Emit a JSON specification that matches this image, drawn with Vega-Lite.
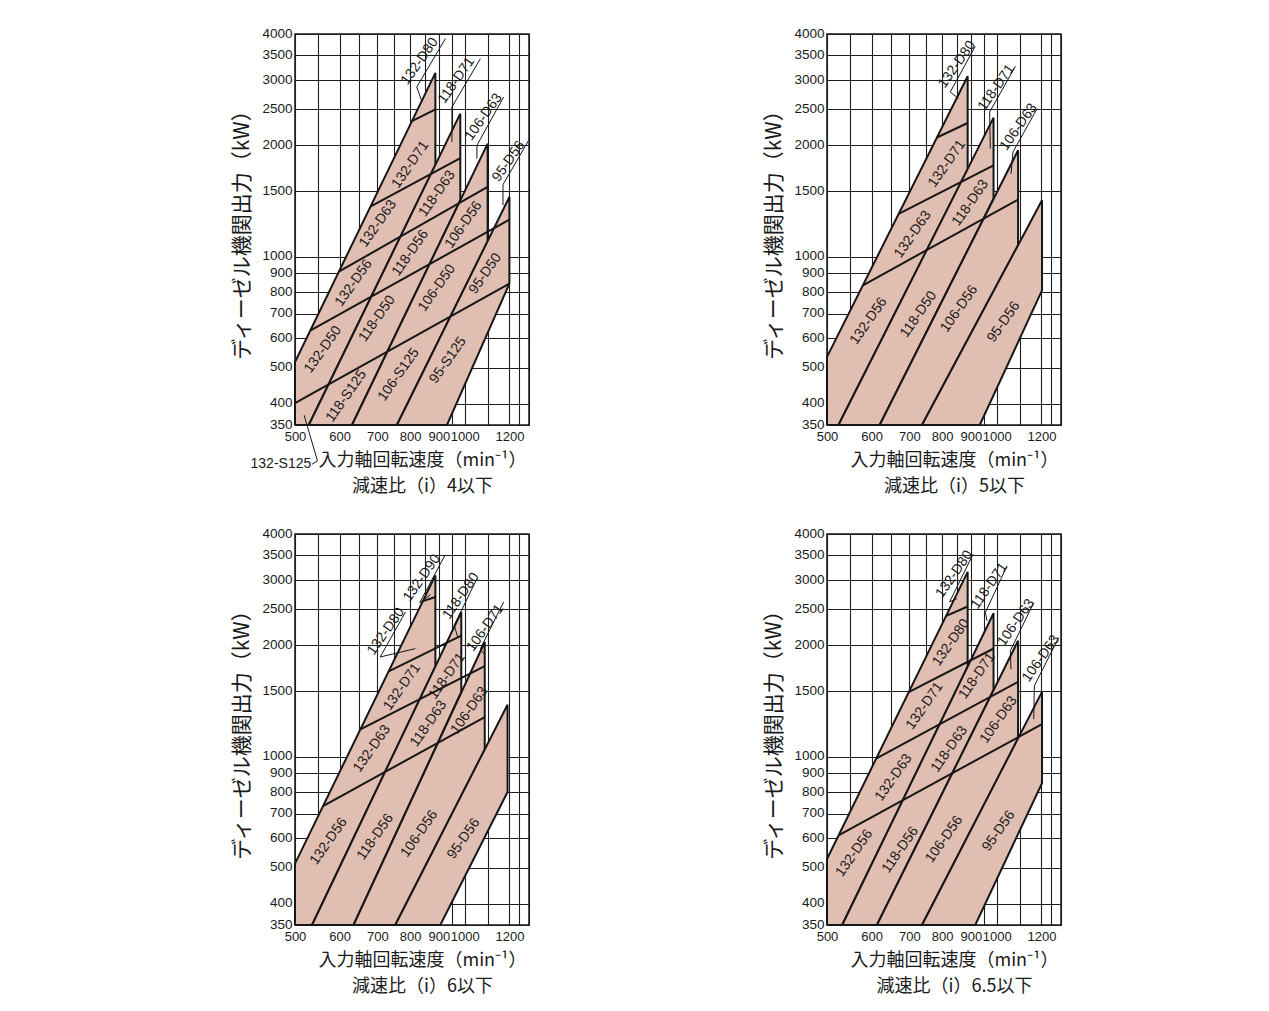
{
"$schema": "https://vega.github.io/schema/vega-lite/v6.json",
"background": "white",
"padding": {"left": 231, "top": 25, "right": 5, "bottom": 5},
"datasets": {
"regions": [
{"p":1,"r":"132","i":0,"n":500,"kw":350},{"p":1,"r":"132","i":1,"n":529,"kw":350},{"p":1,"r":"132","i":2,"n":887,"kw":1770},{"p":1,"r":"132","i":3,"n":887,"kw":3140},{"p":1,"r":"132","i":4,"n":500,"kw":518},{"p":1,"r":"132","i":5,"n":500,"kw":350},
{"p":1,"r":"118","i":0,"n":529,"kw":350},{"p":1,"r":"118","i":1,"n":631,"kw":350},{"p":1,"r":"118","i":2,"n":982,"kw":1420},{"p":1,"r":"118","i":3,"n":982,"kw":2435},{"p":1,"r":"118","i":4,"n":529,"kw":350},
{"p":1,"r":"106","i":0,"n":631,"kw":350},{"p":1,"r":"106","i":1,"n":758,"kw":350},{"p":1,"r":"106","i":2,"n":1098,"kw":1099},{"p":1,"r":"106","i":3,"n":1098,"kw":2020},{"p":1,"r":"106","i":4,"n":631,"kw":350},
{"p":1,"r":"95","i":0,"n":758,"kw":350},{"p":1,"r":"95","i":1,"n":930,"kw":350},{"p":1,"r":"95","i":2,"n":1200,"kw":844},{"p":1,"r":"95","i":3,"n":1200,"kw":1449},{"p":1,"r":"95","i":4,"n":758,"kw":350},
{"p":2,"r":"132","i":0,"n":500,"kw":350},{"p":2,"r":"132","i":1,"n":524,"kw":350},{"p":2,"r":"132","i":2,"n":888,"kw":1722},{"p":2,"r":"132","i":3,"n":888,"kw":3073},{"p":2,"r":"132","i":4,"n":500,"kw":535},{"p":2,"r":"132","i":5,"n":500,"kw":350},
{"p":2,"r":"118","i":0,"n":524,"kw":350},{"p":2,"r":"118","i":1,"n":620,"kw":350},{"p":2,"r":"118","i":2,"n":987,"kw":1434},{"p":2,"r":"118","i":3,"n":987,"kw":2375},{"p":2,"r":"118","i":4,"n":524,"kw":350},
{"p":2,"r":"106","i":0,"n":620,"kw":350},{"p":2,"r":"106","i":1,"n":737,"kw":350},{"p":2,"r":"106","i":2,"n":1091,"kw":1072},{"p":2,"r":"106","i":3,"n":1091,"kw":1938},{"p":2,"r":"106","i":4,"n":620,"kw":350},
{"p":2,"r":"95","i":0,"n":737,"kw":350},{"p":2,"r":"95","i":1,"n":933,"kw":350},{"p":2,"r":"95","i":2,"n":1203,"kw":810},{"p":2,"r":"95","i":3,"n":1203,"kw":1419},{"p":2,"r":"95","i":4,"n":737,"kw":350},
{"p":3,"r":"132","i":0,"n":500,"kw":350},{"p":3,"r":"132","i":1,"n":536,"kw":350},{"p":3,"r":"132","i":2,"n":887,"kw":1751},{"p":3,"r":"132","i":3,"n":887,"kw":3092},{"p":3,"r":"132","i":4,"n":500,"kw":513},{"p":3,"r":"132","i":5,"n":500,"kw":350},
{"p":3,"r":"118","i":0,"n":536,"kw":350},{"p":3,"r":"118","i":1,"n":635,"kw":350},{"p":3,"r":"118","i":2,"n":986,"kw":1495},{"p":3,"r":"118","i":3,"n":986,"kw":2460},{"p":3,"r":"118","i":4,"n":536,"kw":350},
{"p":3,"r":"106","i":0,"n":635,"kw":350},{"p":3,"r":"106","i":1,"n":753,"kw":350},{"p":3,"r":"106","i":2,"n":1085,"kw":1043},{"p":3,"r":"106","i":3,"n":1085,"kw":2041},{"p":3,"r":"106","i":4,"n":635,"kw":350},
{"p":3,"r":"95","i":0,"n":753,"kw":350},{"p":3,"r":"95","i":1,"n":905,"kw":350},{"p":3,"r":"95","i":2,"n":1191,"kw":802},{"p":3,"r":"95","i":3,"n":1191,"kw":1381},{"p":3,"r":"95","i":4,"n":753,"kw":350},
{"p":4,"r":"132","i":0,"n":500,"kw":350},{"p":4,"r":"132","i":1,"n":532,"kw":350},{"p":4,"r":"132","i":2,"n":888,"kw":1750},{"p":4,"r":"132","i":3,"n":888,"kw":3160},{"p":4,"r":"132","i":4,"n":500,"kw":528},{"p":4,"r":"132","i":5,"n":500,"kw":350},
{"p":4,"r":"118","i":0,"n":532,"kw":350},{"p":4,"r":"118","i":1,"n":613,"kw":350},{"p":4,"r":"118","i":2,"n":987,"kw":1513},{"p":4,"r":"118","i":3,"n":987,"kw":2442},{"p":4,"r":"118","i":4,"n":532,"kw":350},
{"p":4,"r":"106","i":0,"n":613,"kw":350},{"p":4,"r":"106","i":1,"n":737,"kw":350},{"p":4,"r":"106","i":2,"n":1091,"kw":1118},{"p":4,"r":"106","i":3,"n":1091,"kw":2056},{"p":4,"r":"106","i":4,"n":613,"kw":350},
{"p":4,"r":"95","i":0,"n":737,"kw":350},{"p":4,"r":"95","i":1,"n":916,"kw":350},{"p":4,"r":"95","i":2,"n":1203,"kw":847},{"p":4,"r":"95","i":3,"n":1203,"kw":1496},{"p":4,"r":"95","i":4,"n":737,"kw":350}
],
"segs": [
{"p":1,"k":"s","n":500,"kw":401,"n2":1200,"kw2":844},
{"p":1,"k":"s","n":532,"kw":630,"n2":1200,"kw2":1258},
{"p":1,"k":"s","n":598,"kw":910,"n2":1098,"kw2":1542},
{"p":1,"k":"s","n":680,"kw":1365,"n2":982,"kw2":1847},
{"p":1,"k":"s","n":806,"kw":2323,"n2":887,"kw2":2502},
{"p":1,"k":"t","n":822,"kw":2875,"n2":924,"kw2":3885},
{"p":1,"k":"t","n":822,"kw":2875,"n2":840,"kw2":2619},
{"p":1,"k":"t","n":949,"kw":2538,"n2":1066,"kw2":3431},
{"p":1,"k":"t","n":949,"kw":2538,"n2":949,"kw2":2041},
{"p":1,"k":"t","n":1051,"kw":1999,"n2":1172,"kw2":2701},
{"p":1,"k":"t","n":1051,"kw":1999,"n2":1051,"kw2":1840},
{"p":1,"k":"t","n":1169,"kw":1565,"n2":1298,"kw2":2062},
{"p":1,"k":"t","n":1169,"kw":1565,"n2":1169,"kw2":1375},
{"p":1,"k":"t","n":536,"kw":274,"n2":548,"kw2":280},
{"p":1,"k":"t","n":548,"kw":280,"n2":519,"kw2":372},
{"p":2,"k":"s","n":579,"kw":836,"n2":1091,"kw2":1425},
{"p":2,"k":"s","n":670,"kw":1304,"n2":987,"kw2":1765},
{"p":2,"k":"s","n":783.5,"kw":2099,"n2":888,"kw2":2297},
{"p":2,"k":"t","n":827,"kw":2787,"n2":916,"kw2":3704},
{"p":2,"k":"t","n":827,"kw":2787,"n2":856,"kw2":2673},
{"p":2,"k":"t","n":971.5,"kw":2460,"n2":1079,"kw2":3270},
{"p":2,"k":"t","n":971.5,"kw":2460,"n2":974,"kw2":1958},
{"p":2,"k":"t","n":1068.5,"kw":1918,"n2":1179,"kw2":2512},
{"p":2,"k":"t","n":1068.5,"kw":1918,"n2":1060,"kw2":1675},
{"p":3,"k":"s","n":560.5,"kw":734,"n2":1085,"kw2":1279},
{"p":3,"k":"s","n":653,"kw":1184,"n2":1085,"kw2":1757},
{"p":3,"k":"s","n":733,"kw":1700,"n2":986,"kw2":2123},
{"p":3,"k":"s","n":843,"kw":2633,"n2":887,"kw2":2701},
{"p":3,"k":"t","n":832,"kw":2608,"n2":921,"kw2":3488},
{"p":3,"k":"t","n":832,"kw":2608,"n2":869,"kw2":2741},
{"p":3,"k":"t","n":708,"kw":1859,"n2":785,"kw2":2460},
{"p":3,"k":"t","n":708,"kw":1859,"n2":817,"kw2":1958},
{"p":3,"k":"t","n":958,"kw":2265,"n2":1051,"kw2":3028},
{"p":3,"k":"t","n":958,"kw":2265,"n2":971.5,"kw2":2106},
{"p":3,"k":"t","n":1066,"kw":1958,"n2":1172,"kw2":2619},
{"p":3,"k":"t","n":1066,"kw":1958,"n2":1080,"kw2":1898},
{"p":4,"k":"s","n":524,"kw":612,"n2":1203,"kw2":1223},
{"p":4,"k":"s","n":612,"kw":989,"n2":1091,"kw2":1592},
{"p":4,"k":"s","n":698,"kw":1493,"n2":987.5,"kw2":1960},
{"p":4,"k":"s","n":812,"kw":2398,"n2":888,"kw2":2546},
{"p":4,"k":"t","n":825,"kw":2621,"n2":908,"kw2":3528},
{"p":4,"k":"t","n":825,"kw":2621,"n2":850,"kw2":2676},
{"p":4,"k":"t","n":954.5,"kw":2453,"n2":1043,"kw2":3281},
{"p":4,"k":"t","n":954.5,"kw":2453,"n2":961,"kw2":2329},
{"p":4,"k":"t","n":1057,"kw":1932,"n2":1163,"kw2":2607},
{"p":4,"k":"t","n":1057,"kw":1932,"n2":1060,"kw2":1723},
{"p":4,"k":"t","n":1166,"kw":1553,"n2":1288,"kw2":2099},
{"p":4,"k":"t","n":1166,"kw":1553,"n2":1163,"kw2":1262}
],
"labels": [
{"p":1,"t":"132-D71","n":800.7,"kw":1772},{"p":1,"t":"132-D63","n":701.7,"kw":1227},{"p":1,"t":"132-D56","n":635.4,"kw":848},{"p":1,"t":"132-D50","n":560.5,"kw":560},
{"p":1,"t":"118-D63","n":892.8,"kw":1479},{"p":1,"t":"118-D56","n":800.7,"kw":1022},{"p":1,"t":"118-D50","n":698.9,"kw":679},{"p":1,"t":"118-S125","n":616.6,"kw":419},
{"p":1,"t":"106-D56","n":995.5,"kw":1219},{"p":1,"t":"106-D50","n":892.8,"kw":822},{"p":1,"t":"106-S125","n":763.5,"kw":479},
{"p":1,"t":"95-D50","n":1087.6,"kw":899},{"p":1,"t":"95-S125","n":933.8,"kw":524},
{"p":1,"t":"132-D80","n":832,"kw":3374},{"p":1,"t":"118-D71","n":966.3,"kw":2997},{"p":1,"t":"106-D63","n":1080.3,"kw":2385},{"p":1,"t":"95-D56","n":1196,"kw":1809},
{"p":2,"t":"132-D71","n":816,"kw":1783},{"p":2,"t":"132-D63","n":710,"kw":1148},{"p":2,"t":"118-D63","n":898,"kw":1396},{"p":2,"t":"132-D56","n":592.7,"kw":669},{"p":2,"t":"118-D50","n":727,"kw":697.5},{"p":2,"t":"106-D56","n":858,"kw":722},{"p":2,"t":"95-D56","n":1029,"kw":665},
{"p":2,"t":"132-D80","n":850,"kw":3311},{"p":2,"t":"118-D71","n":998,"kw":2863},{"p":2,"t":"106-D63","n":1093.5,"kw":2241},
{"p":3,"t":"132-D71","n":774,"kw":1542},{"p":3,"t":"132-D63","n":684.7,"kw":1050},{"p":3,"t":"132-D56","n":573.7,"kw":589.5},{"p":3,"t":"118-D71","n":930,"kw":1651},{"p":3,"t":"118-D63","n":863,"kw":1227},{"p":3,"t":"118-D56","n":694,"kw":605.6},{"p":3,"t":"106-D63","n":1019,"kw":1333},{"p":3,"t":"106-D56","n":830.7,"kw":618},{"p":3,"t":"95-D56","n":995.5,"kw":599},
{"p":3,"t":"132-D90","n":839.8,"kw":3041},{"p":3,"t":"132-D80","n":725,"kw":2181},{"p":3,"t":"118-D80","n":984.7,"kw":2718},{"p":3,"t":"106-D71","n":1087.6,"kw":2227},
{"p":4,"t":"132-D80","n":829.6,"kw":2035},{"p":4,"t":"132-D71","n":745,"kw":1371},{"p":4,"t":"132-D63","n":656.4,"kw":877},{"p":4,"t":"132-D56","n":559,"kw":547.5},{"p":4,"t":"118-D71","n":922.6,"kw":1653},{"p":4,"t":"118-D63","n":823.6,"kw":1047},{"p":4,"t":"118-D56","n":674.6,"kw":559},{"p":4,"t":"106-D63","n":1008,"kw":1257},{"p":4,"t":"106-D56","n":807,"kw":597},{"p":4,"t":"95-D56","n":1008,"kw":629},
{"p":4,"t":"132-D80","n":841,"kw":3115},{"p":4,"t":"118-D71","n":970,"kw":2896},{"p":4,"t":"106-D63","n":1082,"kw":2305},{"p":4,"t":"106-D63","n":1198,"kw":1842}
],
"notes": [
{"p":1,"t":"132-S125","n":472,"kw":274}
]
},
"config": {
"view": {"stroke": "#1a1a1a", "strokeWidth": 1.5},
"axis": {"grid": true, "gridColor": "#1e1e1e", "gridWidth": 1.1, "gridOpacity": 1, "domain": false, "ticks": false, "labelColor": "#1a1a1a", "labelFont": "Liberation Sans", "titleFont": "Noto Sans CJK JP", "titleFontWeight": "normal", "titleColor": "#1a1a1a", "zindex": 1, "labelOverlap": false, "labelFlush": false},
"axisX": {"labelFontSize": 13, "labelPadding": 5, "titleFontSize": 18, "titlePadding": 8, "titleLineHeight": 26, "titleX": 127},
"axisY": {"labelFontSize": 13.5, "labelPadding": 3, "labelOffset": -1, "titleFontSize": 21, "titlePadding": 9},
"text": {"font": "Liberation Sans", "fontSize": 14, "color": "#1a1a1a"}
},
"columns": 2,
"spacing": {"row": 109, "column": 298},
"bounds": "flush",
"concat": [
{
"width": 234, "height": 391,
"encoding": {
"x": {"field": "n", "type": "quantitative", "scale": {"type": "log", "domain": [500, 1300], "nice": false}, "axis": {"values": [500,550,600,650,700,750,800,850,900,950,1000,1100,1200,1250,1300], "format": "d", "labelExpr": "indexof([500,600,700,800,900,1000,1200], datum.value) >= 0 ? datum.label : ''", "title": ["入力軸回転速度（min⁻¹）", "減速比（i）4以下"]}},
"y": {"field": "kw", "type": "quantitative", "scale": {"type": "log", "domain": [350, 4000], "nice": false}, "axis": {"values": [350,400,500,600,700,800,900,1000,1500,2000,2500,3000,3500,4000], "format": "d", "title": "ディーゼル機関出力（kW）"}}
},
"layer": [
{"data": {"name": "regions"}, "transform": [{"filter": "datum.p == 1"}], "mark": {"type": "line", "fill": "#e1beb2", "stroke": "#161616", "strokeWidth": 2}, "encoding": {"detail": {"field": "r"}, "order": {"field": "i", "type": "quantitative"}}},
{"data": {"name": "segs"}, "transform": [{"filter": "datum.p == 1 && datum.k == 's'"}], "mark": {"type": "rule", "stroke": "#161616", "strokeWidth": 2}, "encoding": {"x2": {"field": "n2"}, "y2": {"field": "kw2"}}},
{"data": {"name": "segs"}, "transform": [{"filter": "datum.p == 1 && datum.k == 't'"}], "mark": {"type": "rule", "stroke": "#161616", "strokeWidth": 1}, "encoding": {"x2": {"field": "n2"}, "y2": {"field": "kw2"}}},
{"data": {"name": "labels"}, "transform": [{"filter": "datum.p == 1"}], "mark": {"type": "text", "angle": -55, "align": "center", "baseline": "middle"}, "encoding": {"text": {"field": "t"}}},
{"data": {"name": "notes"}, "transform": [{"filter": "datum.p == 1"}], "mark": {"type": "text", "angle": 0, "align": "center", "baseline": "middle"}, "encoding": {"text": {"field": "t"}}}
]
},
{
"width": 234, "height": 391,
"encoding": {
"x": {"field": "n", "type": "quantitative", "scale": {"type": "log", "domain": [500, 1300], "nice": false}, "axis": {"values": [500,550,600,650,700,750,800,850,900,950,1000,1100,1200,1250,1300], "format": "d", "labelExpr": "indexof([500,600,700,800,900,1000,1200], datum.value) >= 0 ? datum.label : ''", "title": ["入力軸回転速度（min⁻¹）", "減速比（i）5以下"]}},
"y": {"field": "kw", "type": "quantitative", "scale": {"type": "log", "domain": [350, 4000], "nice": false}, "axis": {"values": [350,400,500,600,700,800,900,1000,1500,2000,2500,3000,3500,4000], "format": "d", "title": "ディーゼル機関出力（kW）"}}
},
"layer": [
{"data": {"name": "regions"}, "transform": [{"filter": "datum.p == 2"}], "mark": {"type": "line", "fill": "#e1beb2", "stroke": "#161616", "strokeWidth": 2}, "encoding": {"detail": {"field": "r"}, "order": {"field": "i", "type": "quantitative"}}},
{"data": {"name": "segs"}, "transform": [{"filter": "datum.p == 2 && datum.k == 's'"}], "mark": {"type": "rule", "stroke": "#161616", "strokeWidth": 2}, "encoding": {"x2": {"field": "n2"}, "y2": {"field": "kw2"}}},
{"data": {"name": "segs"}, "transform": [{"filter": "datum.p == 2 && datum.k == 't'"}], "mark": {"type": "rule", "stroke": "#161616", "strokeWidth": 1}, "encoding": {"x2": {"field": "n2"}, "y2": {"field": "kw2"}}},
{"data": {"name": "labels"}, "transform": [{"filter": "datum.p == 2"}], "mark": {"type": "text", "angle": -55, "align": "center", "baseline": "middle"}, "encoding": {"text": {"field": "t"}}}
]
},
{
"width": 234, "height": 391,
"encoding": {
"x": {"field": "n", "type": "quantitative", "scale": {"type": "log", "domain": [500, 1300], "nice": false}, "axis": {"values": [500,550,600,650,700,750,800,850,900,950,1000,1100,1200,1250,1300], "format": "d", "labelExpr": "indexof([500,600,700,800,900,1000,1200], datum.value) >= 0 ? datum.label : ''", "title": ["入力軸回転速度（min⁻¹）", "減速比（i）6以下"]}},
"y": {"field": "kw", "type": "quantitative", "scale": {"type": "log", "domain": [350, 4000], "nice": false}, "axis": {"values": [350,400,500,600,700,800,900,1000,1500,2000,2500,3000,3500,4000], "format": "d", "title": "ディーゼル機関出力（kW）"}}
},
"layer": [
{"data": {"name": "regions"}, "transform": [{"filter": "datum.p == 3"}], "mark": {"type": "line", "fill": "#e1beb2", "stroke": "#161616", "strokeWidth": 2}, "encoding": {"detail": {"field": "r"}, "order": {"field": "i", "type": "quantitative"}}},
{"data": {"name": "segs"}, "transform": [{"filter": "datum.p == 3 && datum.k == 's'"}], "mark": {"type": "rule", "stroke": "#161616", "strokeWidth": 2}, "encoding": {"x2": {"field": "n2"}, "y2": {"field": "kw2"}}},
{"data": {"name": "segs"}, "transform": [{"filter": "datum.p == 3 && datum.k == 't'"}], "mark": {"type": "rule", "stroke": "#161616", "strokeWidth": 1}, "encoding": {"x2": {"field": "n2"}, "y2": {"field": "kw2"}}},
{"data": {"name": "labels"}, "transform": [{"filter": "datum.p == 3"}], "mark": {"type": "text", "angle": -55, "align": "center", "baseline": "middle"}, "encoding": {"text": {"field": "t"}}}
]
},
{
"width": 234, "height": 391,
"encoding": {
"x": {"field": "n", "type": "quantitative", "scale": {"type": "log", "domain": [500, 1300], "nice": false}, "axis": {"values": [500,550,600,650,700,750,800,850,900,950,1000,1100,1200,1250,1300], "format": "d", "labelExpr": "indexof([500,600,700,800,900,1000,1200], datum.value) >= 0 ? datum.label : ''", "title": ["入力軸回転速度（min⁻¹）", "減速比（i）6.5以下"]}},
"y": {"field": "kw", "type": "quantitative", "scale": {"type": "log", "domain": [350, 4000], "nice": false}, "axis": {"values": [350,400,500,600,700,800,900,1000,1500,2000,2500,3000,3500,4000], "format": "d", "title": "ディーゼル機関出力（kW）"}}
},
"layer": [
{"data": {"name": "regions"}, "transform": [{"filter": "datum.p == 4"}], "mark": {"type": "line", "fill": "#e1beb2", "stroke": "#161616", "strokeWidth": 2}, "encoding": {"detail": {"field": "r"}, "order": {"field": "i", "type": "quantitative"}}},
{"data": {"name": "segs"}, "transform": [{"filter": "datum.p == 4 && datum.k == 's'"}], "mark": {"type": "rule", "stroke": "#161616", "strokeWidth": 2}, "encoding": {"x2": {"field": "n2"}, "y2": {"field": "kw2"}}},
{"data": {"name": "segs"}, "transform": [{"filter": "datum.p == 4 && datum.k == 't'"}], "mark": {"type": "rule", "stroke": "#161616", "strokeWidth": 1}, "encoding": {"x2": {"field": "n2"}, "y2": {"field": "kw2"}}},
{"data": {"name": "labels"}, "transform": [{"filter": "datum.p == 4"}], "mark": {"type": "text", "angle": -55, "align": "center", "baseline": "middle"}, "encoding": {"text": {"field": "t"}}}
]
}
]
}
